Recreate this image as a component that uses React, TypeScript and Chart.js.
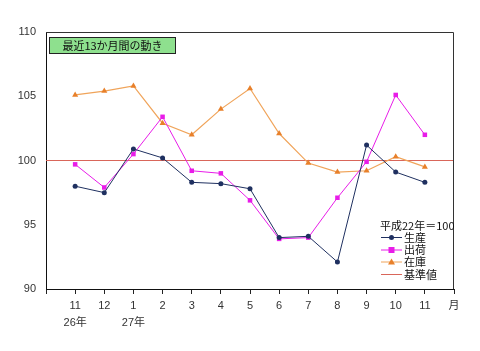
import React, { useEffect, useRef } from 'react';
import { Chart, registerables } from 'chart.js';
Chart.register(...registerables);

const categories: (string | string[])[] = ['', ['11', '26年'], '12', ['1', '27年'], '2', '3', '4', '5', '6', '7', '8', '9', '10', '11', '月'];
const production = [null, 98.0, 97.5, 100.9, 100.2, 98.3, 98.2, 97.8, 94.0, 94.1, 92.1, 101.2, 99.1, 98.3, null];
const shipments = [null, 99.7, 97.9, 100.5, 103.4, 99.2, 99.0, 96.9, 93.9, 94.0, 97.1, 99.9, 105.1, 102.0, null];
const inventory = [null, 105.1, 105.4, 105.8, 102.9, 102.0, 104.0, 105.6, 102.1, 99.8, 99.1, 99.2, 100.3, 99.5, null];
const baseline = categories.map(() => 100);
const yTicks = [90, 95, 100, 105, 110];
const titleText = '最近13か月間の動き';
const legendTitle = '平成22年＝100';
const seriesNames = ['生産', '出荷', '在庫', '基準値'];

const FONT = "'Liberation Sans', Arial, 'Noto Sans CJK JP', sans-serif";
const CJK = "'Noto Sans CJK JP', 'Liberation Sans', sans-serif";
const C_PROD = '#1f3060';
const C_SHIP = '#e81ce8';
const C_INV_LINE = '#f0a45a';
const C_INV_PT = '#e8802a';
const C_BASE = '#d9665a';

const overlay = {
  id: 'overlay',
  afterDraw(chart: any) {
    const { ctx, chartArea: a } = chart;
    ctx.save();
    ctx.strokeStyle = '#333';
    ctx.lineWidth = 1;
    ctx.beginPath();
    ctx.moveTo(a.left, a.top + 0.5);
    ctx.lineTo(a.right - 0.5, a.top + 0.5);
    ctx.lineTo(a.right - 0.5, a.bottom);
    ctx.stroke();
    // title box
    ctx.fillStyle = '#8ee08e';
    ctx.fillRect(49.5, 37.5, 126, 16);
    ctx.strokeStyle = '#222';
    ctx.strokeRect(49.5, 37.5, 126, 16);
    ctx.fillStyle = '#111';
    ctx.font = `11px ${CJK}`;
    ctx.textAlign = 'center';
    ctx.textBaseline = 'middle';
    ctx.fillText(titleText, 112.5, 46);
    // legend
    ctx.textAlign = 'left';
    ctx.font = `11px ${CJK}`;
    ctx.fillStyle = '#111';
    ctx.fillText(legendTitle, 380, 226);
    const rows = [237, 249.5, 261.5, 274];
    const colors = [C_PROD, C_SHIP, C_INV_LINE, C_BASE];
    rows.forEach((y, i) => {
      ctx.strokeStyle = colors[i];
      ctx.lineWidth = 1;
      ctx.beginPath();
      ctx.moveTo(381, y + 0.5);
      ctx.lineTo(402, y + 0.5);
      ctx.stroke();
      if (i === 0) {
        ctx.fillStyle = C_PROD;
        ctx.beginPath();
        ctx.arc(391.5, y + 0.5, 2.5, 0, Math.PI * 2);
        ctx.fill();
      } else if (i === 1) {
        ctx.fillStyle = C_SHIP;
        ctx.fillRect(388.5, y - 2.5, 6, 6);
      } else if (i === 2) {
        ctx.fillStyle = C_INV_PT;
        ctx.beginPath();
        ctx.moveTo(391.5, y - 3);
        ctx.lineTo(395, y + 3);
        ctx.lineTo(388, y + 3);
        ctx.closePath();
        ctx.fill();
      }
      ctx.fillStyle = '#111';
      ctx.font = `11px ${CJK}`;
      ctx.fillText(seriesNames[i], 404, y + 0.5);
    });
    ctx.restore();
  },
};

export default function App() {
  const ref = useRef<HTMLCanvasElement | null>(null);
  useEffect(() => {
    if (!ref.current) return;
    const chart = new Chart(ref.current, {
      type: 'line',
      data: {
        labels: categories as any,
        datasets: [
          {
            label: seriesNames[3], data: baseline, borderColor: C_BASE, borderWidth: 1.2,
            pointRadius: 0, order: 4,
          },
          {
            label: seriesNames[2], data: inventory as any, borderColor: C_INV_LINE, borderWidth: 1.2,
            pointStyle: 'triangle', pointRadius: 3.5, pointBackgroundColor: C_INV_PT, pointBorderColor: C_INV_PT,
            pointBorderWidth: 0, order: 3,
          },
          {
            label: seriesNames[1], data: shipments as any, borderColor: C_SHIP, borderWidth: 1,
            pointStyle: 'rect', pointRadius: 3.2, pointBackgroundColor: C_SHIP, pointBorderColor: C_SHIP,
            pointBorderWidth: 0, order: 2,
          },
          {
            label: seriesNames[0], data: production as any, borderColor: C_PROD, borderWidth: 1,
            pointStyle: 'circle', pointRadius: 2.5, pointBackgroundColor: C_PROD, pointBorderColor: C_PROD,
            pointBorderWidth: 0, order: 1,
          },
        ],
      },
      options: {
        responsive: false,
        animation: false,
        spanGaps: false,
        layout: { padding: { top: 32, right: 26, left: 0, bottom: 0 } },
        plugins: { legend: { display: false }, tooltip: { enabled: false }, title: { display: false } },
        elements: { line: { tension: 0 } },
        scales: {
          x: {
            type: 'category',
            offset: false,
            grid: { display: true, drawOnChartArea: false, drawTicks: true, tickLength: 5, color: '#222' },
            border: { display: true, color: '#111', width: 1 },
            ticks: {
              autoSkip: false, maxRotation: 0, minRotation: 0, padding: 3, color: '#333',
              font: { family: FONT, size: 11, lineHeight: 1.55 },
            },
            afterFit: (s: any) => { s.height = 62; },
          },
          y: {
            min: 90, max: 110,
            afterBuildTicks: (s: any) => { s.ticks = yTicks.map((v) => ({ value: v })); },
            grid: { display: false, drawTicks: false },
            border: { display: true, color: '#111', width: 1 },
            ticks: { padding: 10, color: '#333', font: { family: FONT, size: 11 } },
            afterFit: (s: any) => { s.width = 46; },
          },
        },
      },
      plugins: [overlay],
    });
    return () => chart.destroy();
  }, []);
  return (
    <div style={{ position: 'fixed', left: 0, top: 0, width: 480, height: 351, background: '#fff' }}>
      <canvas ref={ref} width={480} height={351} />
    </div>
  );
}
